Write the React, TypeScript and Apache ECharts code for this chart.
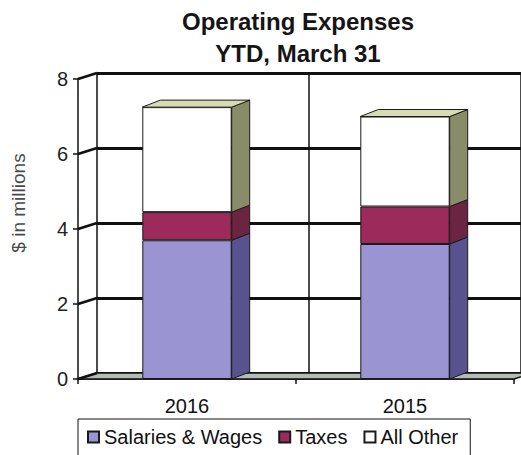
import React, { useEffect, useRef } from "react";
import * as echarts from "echarts";

const categories = ["2016", "2015"];
const seriesNames = ["Salaries & Wages", "Taxes", "All Other"];
const salaries = [3.7, 3.6];
const taxes = [0.75, 1.0];
const allOther = [2.8, 2.4];
const yTicks = [0, 2, 4, 6, 8];

const frontColors = ["#9a94d2", "#9c2a5a", "#ffffff"];
const sideColors = ["#58538f", "#6b2442", "#888c69"];
const topColors = ["#b9b5e6", "#c25a86", "#d8dcb2"];

const FONT = "'Liberation Sans', Arial, Helvetica, sans-serif";
const BAR_FRAC = 0.41;
const DX = 18;
const DY = -7;
const WDX = 19;
const WDY = -6;

export default function App() {
  const ref = useRef<HTMLDivElement>(null);
  useEffect(() => {
    if (!ref.current) return;
    const chart = echarts.init(ref.current, null, { renderer: "svg" });
    const stacks = [salaries, taxes, allOther];
    const segData: number[][] = [];
    categories.forEach((_, ci) => {
      let base = 0;
      stacks.forEach((arr, si) => {
        const top = base + arr[ci];
        segData.push([ci, base, top, si, si === stacks.length - 1 ? 1 : 0]);
        base = top;
      });
    });

    const barSeries = stacks.map((arr, si) => ({
      type: "bar",
      name: seriesNames[si],
      stack: "total",
      xAxisIndex: 0,
      yAxisIndex: 0,
      barWidth: BAR_FRAC * 100 + "%",
      data: arr,
      z: 3,
      itemStyle: { color: frontColors[si], borderColor: "#1a1a1a", borderWidth: 1 },
      emphasis: { disabled: true },
    }));

    const option: any = {
      animation: false,
      backgroundColor: "#ffffff",
      title: {
        text: "Operating Expenses\nYTD, March 31",
        left: 298,
        top: 5,
        padding: 0,
        textAlign: "center",
        textStyle: {
          fontFamily: FONT,
          fontSize: 24,
          fontWeight: "bold",
          color: "#151515",
          lineHeight: 32,
        },
      },
      legend: {
        data: seriesNames,
        left: 78,
        top: 419,
        orient: "horizontal",
        icon: "rect",
        itemWidth: 11,
        itemHeight: 11,
        itemGap: 16,
        padding: [8, 12, 12, 9],
        borderColor: "#111",
        borderWidth: 1,
        textStyle: { fontFamily: FONT, fontSize: 20, color: "#111" },
      },
      graphic: [
        {
          type: "text",
          x: 18,
          y: 203,
          rotation: Math.PI / 2,
          style: {
            text: "$ in millions",
            fontFamily: FONT,
            fontSize: 19,
            fill: "#4a4a4a",
            textAlign: "center",
            textVerticalAlign: "middle",
          },
        },
      ],
      grid: [
        { left: 78, top: 79, width: 436, height: 300, containLabel: false },
        { left: 97, top: 73, width: 436, height: 300, containLabel: false },
      ],
      xAxis: [
        {
          type: "category",
          gridIndex: 0,
          data: categories,
          axisLine: { show: true, lineStyle: { color: "#111", width: 1.5 } },
          axisTick: { show: true, length: 5, interval: 0, lineStyle: { color: "#111", width: 1.5 } },
          axisLabel: { fontFamily: FONT, fontSize: 20, color: "#111", margin: 17 },
          splitLine: { show: false },
        },
        {
          type: "category",
          gridIndex: 1,
          data: categories,
          axisLine: { show: false },
          axisTick: { show: false },
          axisLabel: { show: false },
          splitLine: { show: true, lineStyle: { color: "#111", width: 1.5 } },
        },
      ],
      yAxis: [
        {
          type: "value",
          gridIndex: 0,
          min: 0,
          max: 8,
          interval: 2,
          axisLine: { show: true, lineStyle: { color: "#111", width: 1.5 } },
          axisTick: { show: true, length: 5, lineStyle: { color: "#111", width: 1.5 } },
          axisLabel: { fontFamily: FONT, fontSize: 20, color: "#222", margin: 10 },
          splitLine: { show: false },
        },
        {
          type: "value",
          gridIndex: 1,
          min: 0,
          max: 8,
          interval: 2,
          axisLine: { show: false },
          axisTick: { show: false },
          axisLabel: { show: false },
          splitLine: { show: true, lineStyle: { color: "#111", width: 2.8 } },
        },
      ],
      series: [
        {
          type: "custom",
          name: "walls",
          xAxisIndex: 0,
          yAxisIndex: 0,
          clip: false,
          z: 1,
          silent: true,
          data: [[0, 0]],
          encode: { x: 0, y: 1 },
          renderItem: (params: any, api: any) => {
            const cs = params.coordSys;
            const x0 = cs.x;
            const x1 = cs.x + cs.width;
            const y0 = api.coord([0, 0])[1];
            const children: any[] = [
              {
                type: "polygon",
                shape: {
                  points: [
                    [x0, y0],
                    [x1, y0],
                    [x1 + WDX, y0 + WDY],
                    [x0 + WDX, y0 + WDY],
                  ],
                },
                style: { fill: "#b4bcb6", stroke: "#111", lineWidth: 1.5 },
              },
            ];
            yTicks.forEach((v) => {
              const y = api.coord([0, v])[1];
              children.push({
                type: "line",
                shape: { x1: x0, y1: y, x2: x0 + WDX, y2: y + WDY },
                style: { stroke: "#111", lineWidth: 2.8 },
              });
            });
            return { type: "group", children };
          },
        },
        ...barSeries,
        {
          type: "custom",
          name: "depth",
          xAxisIndex: 0,
          yAxisIndex: 0,
          clip: false,
          z: 4,
          silent: true,
          data: segData,
          encode: { x: 0, y: [1, 2] },
          renderItem: (params: any, api: any) => {
            const ci = api.value(0);
            const base = api.value(1);
            const top = api.value(2);
            const si = api.value(3);
            const isTop = api.value(4);
            const pb = api.coord([ci, base]);
            const pt = api.coord([ci, top]);
            const w = api.size([1, 0])[0] * BAR_FRAC;
            const xl = pb[0] - w / 2;
            const xr = pb[0] + w / 2;
            const children: any[] = [
              {
                type: "polygon",
                shape: {
                  points: [
                    [xr, pb[1]],
                    [xr + DX, pb[1] + DY],
                    [xr + DX, pt[1] + DY],
                    [xr, pt[1]],
                  ],
                },
                style: { fill: sideColors[si], stroke: "#1a1a1a", lineWidth: 1 },
              },
            ];
            if (isTop) {
              children.push({
                type: "polygon",
                shape: {
                  points: [
                    [xl, pt[1]],
                    [xl + DX, pt[1] + DY],
                    [xr + DX, pt[1] + DY],
                    [xr, pt[1]],
                  ],
                },
                style: { fill: topColors[si], stroke: "#1a1a1a", lineWidth: 1 },
              });
            }
            return { type: "group", children };
          },
        },
      ],
    };
    chart.setOption(option);
    return () => chart.dispose();
  }, []);
  return (
    <div
      ref={ref}
      style={{ position: "fixed", left: 0, top: 0, width: 521, height: 455, background: "#fff" }}
    />
  );
}
